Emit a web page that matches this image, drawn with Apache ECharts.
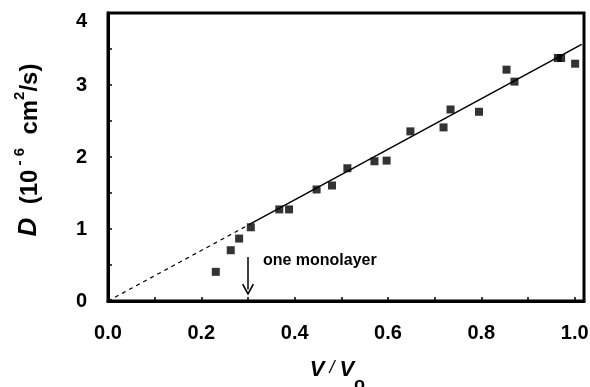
<!DOCTYPE html>
<html>
<head>
<meta charset="utf-8">
<script src="https://cdn.jsdelivr.net/npm/echarts@6/dist/echarts.min.js"></script>
<style>
  html, body { margin: 0; padding: 0; background: #fff; }
  #chart { width: 590px; height: 387px; }
</style>
</head>
<body>
<div id="chart"></div>
<script>
// measured points: V/Vo and D (10^-6 cm^2/s)
const ratio = [0.231, 0.263, 0.281, 0.306, 0.367, 0.388, 0.447, 0.480, 0.513, 0.571,
               0.597, 0.648, 0.719, 0.734, 0.795, 0.854, 0.871, 0.964, 0.971, 1.001];
const diff  = [0.405, 0.705, 0.867, 1.024, 1.272, 1.272, 1.549, 1.604, 1.844, 1.941,
               1.950, 2.356, 2.411, 2.660, 2.628, 3.213, 3.047, 3.375, 3.375, 3.296];

// linear fit, solid over the data and dashed back to the origin
const fitSolid  = [[0.305, 1.07], [1.015, 3.563]];
const fitDashed = [[0, 0], [0.305, 1.07]];

// one monolayer marker
const arrowFrom = [0.3, 0.61];
const arrowTo   = [0.3, 0.16];
const noteAt    = [0.332, 0.557];

const font = '"Liberation Sans", Arial, Helvetica, sans-serif';

const chart = echarts.init(document.getElementById('chart'));

chart.setOption({
  animation: false,
  grid: {
    left: 108, right: 6, top: 13, bottom: 86,
    outerBoundsMode: 'none',
    show: true, borderColor: '#000', borderWidth: 3
  },
  xAxis: {
    type: 'value',
    min: 0, max: 1.02, interval: 0.1,
    axisLine: { lineStyle: { color: '#000', width: 3 } },
    axisTick: { inside: true, length: 4, lineStyle: { color: '#000', width: 1.5 } },
    splitLine: { show: false },
    axisLabel: {
      margin: 22, color: '#000', fontFamily: font, fontWeight: 'bold', fontSize: 20,
      formatter: v => {
        const k = Math.round(v * 10);
        return (Math.abs(v * 10 - k) < 1e-6 && k % 2 === 0 && k <= 10) ? (k / 10).toFixed(1) : '';
      }
    },
    name: '{v|V}{s| / }{v|V}{sub|o}{sp| }',
    nameLocation: 'middle',
    nameGap: 58,
    nameTextStyle: {
      padding: [0, 16, 0, 0],
      rich: {
        v: { fontFamily: font, fontWeight: 'bold', fontStyle: 'italic', fontSize: 22, color: '#000', lineHeight: 22, verticalAlign: 'top' },
        s: { fontFamily: font, fontWeight: 'normal', fontStyle: 'italic', fontSize: 18, color: '#000', lineHeight: 22, verticalAlign: 'top' },
        sub: { fontFamily: font, fontWeight: 'bold', fontSize: 18, color: '#000', lineHeight: 16, verticalAlign: 'bottom' },
        sp: { fontSize: 4, lineHeight: 35 }
      }
    }
  },
  yAxis: {
    type: 'value',
    min: 0, max: 4, interval: 0.5,
    axisLine: { lineStyle: { color: '#000', width: 3 } },
    axisTick: { inside: true, length: 4, lineStyle: { color: '#000', width: 1.5 } },
    splitLine: { show: false },
    axisLabel: {
      margin: 21, color: '#000', fontFamily: font, fontWeight: 'bold', fontSize: 20,
      formatter: v => {
        if (Math.abs(v - Math.round(v)) > 1e-6) return '';
        return v === 4 ? '{top|4}' : String(Math.round(v));
      },
      rich: {
        top: { fontFamily: font, fontWeight: 'bold', fontSize: 20, color: '#000', padding: [16, 0, 0, 0] }
      }
    },
    name: '{d|D}{p|  (10}{sup| - 6}{p|  cm}{sup|2}{p|/s)}',
    nameLocation: 'middle',
    nameGap: 66,
    nameRotate: 90,
    nameTextStyle: {
      padding: [0, 0, 0, 14],
      rich: {
        d: { fontFamily: font, fontWeight: 'bold', fontStyle: 'italic', fontSize: 26, color: '#000', lineHeight: 30, verticalAlign: 'bottom' },
        p: { fontFamily: font, fontWeight: 'bold', fontSize: 24, color: '#000', lineHeight: 28, verticalAlign: 'bottom' },
        sup: { fontFamily: font, fontWeight: 'bold', fontSize: 15, color: '#000', lineHeight: 16, verticalAlign: 'top' }
      }
    }
  },
  series: [
    {
      type: 'line',
      data: fitDashed,
      symbol: 'none',
      lineStyle: { color: '#000', width: 1.2, type: [4, 4] },
      z: 1
    },
    {
      type: 'line',
      data: fitSolid,
      symbol: 'none',
      lineStyle: { color: '#000', width: 1.5 },
      z: 1,
      markLine: {
        silent: true,
        symbol: ['none', 'path://M5,0 L10,8 L9,9 L5,2.5 L1,9 L0,8 Z'],
        symbolSize: [12, 12],
        lineStyle: { color: '#000', width: 1.5, type: 'solid' },
        label: { show: false },
        data: [[{ coord: arrowFrom }, { coord: arrowTo }]]
      },
      markPoint: {
        silent: true,
        symbol: 'circle',
        symbolSize: 0,
        label: {
          show: true, position: 'right', distance: 0,
          formatter: 'one monolayer',
          color: '#000', fontFamily: font, fontWeight: 'bold', fontSize: 16
        },
        data: [{ coord: noteAt }]
      }
    },
    {
      type: 'scatter',
      data: ratio.map((x, i) => [x, diff[i]]),
      symbol: 'rect',
      symbolSize: 8,
      itemStyle: { color: '#000' },
      z: 3
    }
  ]
});
</script>
</body>
</html>
